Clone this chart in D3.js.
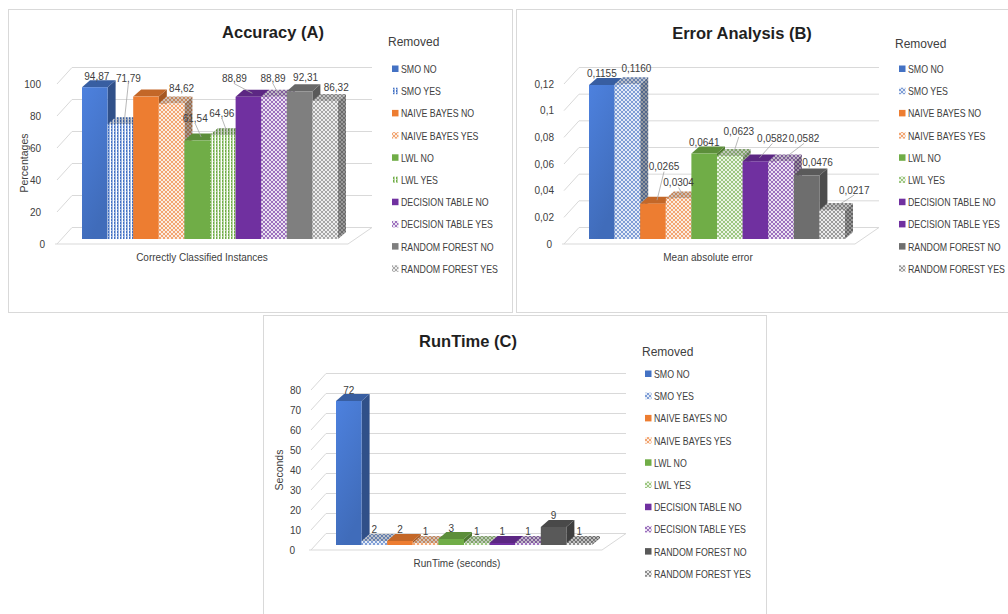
<!DOCTYPE html>
<html>
<head>
<meta charset="utf-8">
<script src="https://cdn.jsdelivr.net/npm/d3@7"></script>
<style>
  body { margin: 0; background: #fff; }
  svg { display: block; font-family: "Liberation Sans", Arial, sans-serif; }
</style>
</head>
<body>
<svg id="chart" width="1008" height="614"></svg>
<script>
// ---- data ----
const series = ["SMO NO", "SMO YES", "NAIVE BAYES NO", "NAIVE BAYES YES", "LWL NO", "LWL YES",
                "DECISION TABLE NO", "DECISION TABLE YES", "RANDOM FOREST NO", "RANDOM FOREST YES"];

const accuracy = [94.87, 71.79, 89, 84.62, 61.54, 64.96, 88.89, 88.89, 92.31, 86.32];
const accuracyLabelled = [true, true, false, true, true, true, true, true, true, true];
const accuracyTicks = [0, 20, 40, 60, 80, 100];

const meanAbsError = [0.1155, 0.1160, 0.0265, 0.0304, 0.0641, 0.0623, 0.0582, 0.0582, 0.0476, 0.0217];
const errorTicks = [0, 0.02, 0.04, 0.06, 0.08, 0.1, 0.12];

const runtimeSeconds = [72, 2, 2, 1, 3, 1, 1, 1, 9, 1];
const runtimeTicks = [0, 10, 20, 30, 40, 50, 60, 70, 80];

// ---- styles ----
const familyColors = ["#4472C4", "#4472C4", "#ED7D31", "#ED7D31", "#70AD47", "#70AD47",
                      "#7030A0", "#7030A0", "#7F7F7F", "#7F7F7F"];
const comma = d3.formatLocale({decimal: ",", thousands: ".", grouping: [3], currency: ["", ""]});

// shared 3-D plot geometry (relative to each panel's origin)
const G = {
  barX0: 82, step: 25.6, base: 239, span: 160,
  depthX: 8, depthY: -7,
  frontShift: 5, backShift: -11.5,
  wallFrontX: 57, wallBackX: 72, wallRightX: 372,
  floorX0: 55, floorX1: 348
};

const svg = d3.select("#chart");
const defs = svg.append("defs");

function makePattern(id, color, type) {
  const pat = defs.append("pattern").attr("id", id).attr("patternUnits", "userSpaceOnUse");
  if (type === "vlines") {
    pat.attr("width", 3).attr("height", 3);
    pat.append("rect").attr("width", 3).attr("height", 3).attr("fill", d3.interpolateRgb(color, "#fff")(0.5));
    pat.append("rect").attr("x", 2).attr("width", 1).attr("height", 3).attr("fill", "#fff");
    pat.append("rect").attr("x", 0).attr("y", 0).attr("width", 1).attr("height", 2).attr("fill", color);
  } else {
    pat.attr("width", 4).attr("height", 4);
    pat.append("rect").attr("width", 4).attr("height", 4).attr("fill", d3.interpolateRgb(color, "#fff")(0.3));
    [[0, 0], [4, 0], [0, 4], [4, 4], [2, 2]].forEach(([a, b]) =>
      pat.append("circle").attr("cx", a).attr("cy", b).attr("r", 1.1).attr("fill", "#fff"));
  }
  return `url(#${id})`;
}

function makeGradient(id, color) {
  const c = d3.color(color);
  const grad = defs.append("linearGradient").attr("id", id)
    .attr("x1", 0).attr("y1", 0).attr("x2", 0.35).attr("y2", 1);
  grad.append("stop").attr("offset", 0).attr("stop-color", c.brighter(0.35));
  grad.append("stop").attr("offset", 1).attr("stop-color", c.darker(0.15));
  return `url(#${id})`;
}

function condensed(g, x, y, str, size, sx) {
  return g.append("text")
    .attr("transform", `translate(${x},${y}) scale(${sx},1)`)
    .attr("font-size", size).attr("fill", "#404040").text(str);
}

const panels = [
  {
    key: "a", ox: 0, oy: 0, box: [8.5, 9.5, 504, 303],
    title: "Accuracy (A)", titleX: 273, titleY: 38,
    values: accuracy, shown: accuracyLabelled, ticks: accuracyTicks,
    tickFmt: comma.format("d"), labelFmt: comma.format(".2f"),
    tickRight: 41, zeroRight: 45,
    yTitle: "Percentages", yTitleX: 28, yTitleY: 163,
    xTitle: "Correctly Classified Instances", xTitleX: 202, xTitleY: 261,
    legendX: 388, legendY: 46, swatchX: 392, textX: 401, itemY0: 69,
    fills: ["solid", "vlines", "solid", "lattice", "solid", "vlines", "solid", "lattice", "solid", "lattice"],
    legendFills: ["solid", "vlines", "solid", "lattice", "solid", "vlines", "solid", "lattice", "solid", "lattice"],
    gray: "#7F7F7F",
    nudge: [[1, 1, 0], [7, -34, 1], [0, 0, 0], [9, -3, 0], [-3, -10, 1], [-2, -10, 1],
            [-15, -6, 1], [-2, -6, 1], [5, -2, 0], [10, -1, 0]]
  },
  {
    key: "b", ox: 507, oy: 0, box: [516.5, 9.5, 500, 303],
    title: "Error Analysis (B)", titleX: 742, titleY: 39,
    values: meanAbsError, shown: meanAbsError.map(() => true), ticks: errorTicks,
    tickFmt: comma.format("~g"), labelFmt: comma.format(".4f"),
    tickRight: 554, zeroRight: 552,
    yTitle: null,
    xTitle: "Mean absolute error", xTitleX: 708, xTitleY: 261,
    legendX: 895, legendY: 48, swatchX: 899, textX: 908, itemY0: 69,
    fills: ["solid", "lattice", "solid", "lattice", "solid", "lattice", "solid", "lattice", "solid", "lattice"],
    legendFills: ["solid", "lattice", "solid", "lattice", "solid", "lattice", "solid", "solid", "solid", "lattice"],
    gray: "#6E6E6E",
    nudge: [[-1, 0, 0], [8, -4, 0], [10, -25, 1], [-1, -4, 1], [-1, 1, 0], [8, -12, 1],
            [16, -11, 1], [22, -11, 1], [10, -1, 0], [21, -8, 1]]
  },
  {
    key: "c", ox: 254, oy: 306, box: [263.5, 315.5, 503, 310],
    title: "RunTime (C)", titleX: 468, titleY: 347,
    values: runtimeSeconds, shown: runtimeSeconds.map(() => true), ticks: runtimeTicks,
    tickFmt: comma.format("d"), labelFmt: comma.format("d"),
    tickRight: 301, zeroRight: 295,
    yTitle: "Seconds", yTitleX: 283, yTitleY: 470,
    xTitle: "RunTime (seconds)", xTitleX: 457, xTitleY: 567,
    legendX: 642, legendY: 356, swatchX: 645, textX: 654, itemY0: 374,
    fills: ["solid", "lattice", "solid", "lattice", "solid", "lattice", "solid", "lattice", "solid", "lattice"],
    legendFills: ["solid", "lattice", "solid", "lattice", "solid", "lattice", "solid", "lattice", "solid", "lattice"],
    gray: "#595959",
    nudge: [[-1, 1, 0], [-1, 0, 0], [-1, 0, 0], [-1, 0, 0], [-1, 1, 0], [-1, 0, 0],
            [-1, 0, 0], [-1, 0, 0], [-1, 0, 0], [-1, 0, 0]]
  }
];

function drawPanel(p) {
  const g = svg.append("g").attr("class", "panel-" + p.key);
  const ox = p.ox, oy = p.oy;
  const colors = familyColors.map((c, i) => i >= 8 ? p.gray : c);

  g.append("rect").attr("x", p.box[0]).attr("y", p.box[1])
    .attr("width", p.box[2]).attr("height", p.box[3])
    .attr("fill", "#fff").attr("stroke", "#d9d9d9").attr("stroke-width", 1);

  // fills for each series
  const fills = colors.map((c, i) => {
    if (p.fills[i] === "solid") return i === 0 ? makeGradient(`grad-${p.key}-${i}`, c) : c;
    return makePattern(`pat-${p.key}-${i}`, c, p.fills[i]);
  });

  const max = d3.max(p.ticks);
  const y = d3.scaleLinear().domain([0, max]).range([oy + G.base, oy + G.base - G.span]);
  const yFront = v => y(v) + G.frontShift;
  const yBack = v => y(v) + G.backShift;
  const x = d3.scaleBand().domain(d3.range(p.values.length))
    .range([ox + G.barX0, ox + G.barX0 + G.step * p.values.length]).padding(0);

  // side wall, back wall and floor gridlines
  const grid = g.append("g").attr("stroke", "#d9d9d9").attr("stroke-width", 1).attr("fill", "none");
  p.ticks.forEach(t => {
    grid.append("path").attr("d",
      `M${ox + G.wallFrontX},${yFront(t)}L${ox + G.wallBackX},${yBack(t)}H${ox + G.wallRightX}`);
  });
  grid.append("path").attr("d",
    `M${ox + G.floorX0},${yFront(0)}H${ox + G.floorX1}L${ox + G.wallRightX},${yBack(0)}`);

  // value axis labels
  p.ticks.forEach(t => {
    g.append("text").attr("x", t === 0 ? p.zeroRight : p.tickRight).attr("y", yFront(t) + 3.5)
      .attr("text-anchor", "end").attr("font-size", 10).attr("fill", "#404040")
      .text(p.tickFmt(t));
  });

  // 3-D bars, drawn left to right so nearer faces overlap
  const dx = G.depthX, dy = G.depthY;
  p.values.forEach((v, i) => {
    const x0 = x(i), w = x.bandwidth(), top = y(v), base = y(0);
    const solid = p.fills[i] === "solid";
    const c = d3.color(colors[i]);
    const side = [[x0 + w, top], [x0 + w + dx, top + dy], [x0 + w + dx, base + dy], [x0 + w, base]];
    const lid = [[x0, top], [x0 + w, top], [x0 + w + dx, top + dy], [x0 + dx, top + dy]];
    const poly = pts => "M" + pts.map(q => q.join(",")).join("L") + "Z";
    if (solid) {
      g.append("path").attr("d", poly(side)).attr("fill", c.darker(1.0));
      g.append("path").attr("d", poly(lid)).attr("fill", c.darker(0.55));
    } else {
      g.append("path").attr("d", poly(side)).attr("fill", fills[i]);
      g.append("path").attr("d", poly(side)).attr("fill", "#000").attr("opacity", 0.35);
      g.append("path").attr("d", poly(lid)).attr("fill", fills[i]);
      g.append("path").attr("d", poly(lid)).attr("fill", "#000").attr("opacity", 0.18);
    }
    g.append("rect").attr("x", x0).attr("y", top).attr("width", w).attr("height", base - top)
      .attr("fill", fills[i]);
  });

  // data labels with leader lines
  p.values.forEach((v, i) => {
    if (!p.shown[i]) return;
    const [ndx, ndy, lead] = p.nudge[i];
    const w = x.bandwidth();
    const cx = x(i) + w / 2 + 1 + ndx;
    const cy = y(v) - 12 + ndy;
    if (lead) {
      g.append("line").attr("x1", cx).attr("y1", cy + 5)
        .attr("x2", x(i) + w / 2 + 4).attr("y2", y(v) - 3.5)
        .attr("stroke", "#a6a6a6").attr("stroke-width", 0.8);
    }
    g.append("text").attr("x", cx).attr("y", cy + 3.5).attr("text-anchor", "middle")
      .attr("font-size", 10).attr("fill", "#404040").text(p.labelFmt(v));
  });

  // titles
  g.append("text").attr("x", p.titleX).attr("y", p.titleY).attr("text-anchor", "middle")
    .attr("font-size", 16.5).attr("font-weight", "bold").attr("fill", "#1f1f1f").text(p.title);
  g.append("text").attr("x", p.xTitleX).attr("y", p.xTitleY).attr("text-anchor", "middle")
    .attr("font-size", 10).attr("fill", "#404040").text(p.xTitle);
  if (p.yTitle) {
    g.append("text").attr("transform", `translate(${p.yTitleX},${p.yTitleY}) rotate(-90)`)
      .attr("text-anchor", "middle").attr("font-size", 10.5).attr("fill", "#404040").text(p.yTitle);
  }

  // legend
  g.append("text").attr("x", p.legendX).attr("y", p.legendY)
    .attr("font-size", 12).attr("fill", "#404040").text("Removed");
  series.forEach((s, i) => {
    const cy = p.itemY0 + i * 22.2;
    const lf = p.legendFills[i] === "solid"
      ? colors[i]
      : (p.fills[i] === p.legendFills[i] ? fills[i] : makePattern(`leg-${p.key}-${i}`, colors[i], p.legendFills[i]));
    g.append("rect").attr("x", p.swatchX).attr("y", cy - 3.5).attr("width", 6.5).attr("height", 6.5).attr("fill", lf);
    condensed(g, p.textX, cy + 4, s, 11, 0.8);
  });
}

panels.forEach(drawPanel);
</script>
</body>
</html>
